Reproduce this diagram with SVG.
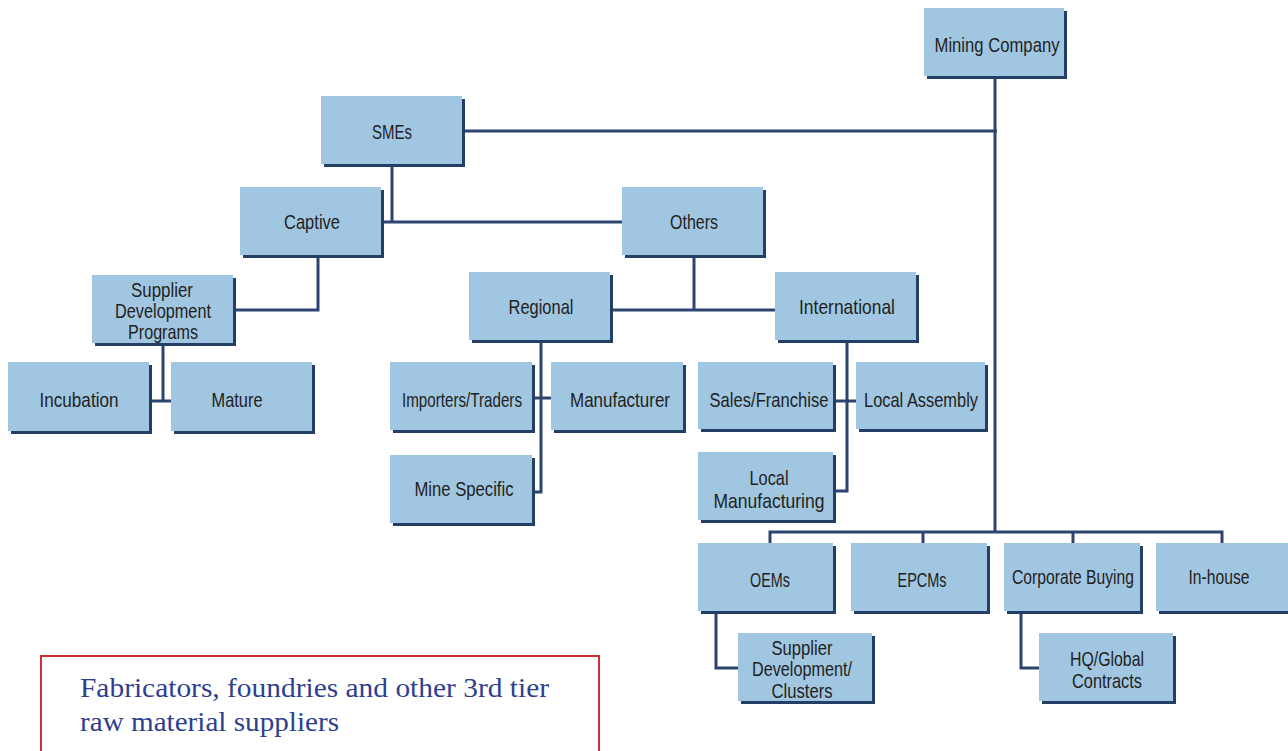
<svg xmlns="http://www.w3.org/2000/svg" width="1288" height="751" viewBox="0 0 1288 751">
<style>
.sh{fill:#243f66}
.bx{fill:#a0c6e2}
.t{font-family:"Liberation Sans",Arial,sans-serif;font-size:21px;fill:#231f20;text-anchor:middle}
.c{fill:none;stroke:#2b4570;stroke-width:3}
.note{font-family:"Liberation Serif",serif;font-size:27px;fill:#2e3f8f}
</style>
<rect width="1288" height="751" fill="#ffffff"/>
<g id="connectors">
<path class="c" d="M995 77V533M463 131H997"/>
<path class="c" d="M392 164V222M381 222H622"/>
<path class="c" d="M318 256V310H234"/>
<path class="c" d="M163 343V401M150 401H172"/>
<path class="c" d="M694 255V310M611 310H775"/>
<path class="c" d="M541 340V492H532M532 398H551"/>
<path class="c" d="M847 340V491H833M833 401H856"/>
<path class="c" d="M770 543V532H1222V543M923 532V543M1073 532V543"/>
<path class="c" d="M716 611V668H738"/>
<path class="c" d="M1021 611V668H1039"/>
</g>
<g id="mining"><rect class="sh" x="927" y="11" width="140" height="68"/><rect class="bx" x="924" y="8" width="140" height="68"/><text class="t" x="997" y="52" textLength="125" lengthAdjust="spacingAndGlyphs">Mining Company</text></g>
<g id="smes"><rect class="sh" x="324" y="99" width="141" height="68"/><rect class="bx" x="321" y="96" width="141" height="68"/><text class="t" x="392" y="139" textLength="40" lengthAdjust="spacingAndGlyphs">SMEs</text></g>
<g id="captive"><rect class="sh" x="243" y="190" width="141" height="68"/><rect class="bx" x="240" y="187" width="141" height="68"/><text class="t" x="312" y="229" textLength="56" lengthAdjust="spacingAndGlyphs">Captive</text></g>
<g id="others"><rect class="sh" x="625" y="190" width="141" height="68"/><rect class="bx" x="622" y="187" width="141" height="68"/><text class="t" x="694" y="229" textLength="48" lengthAdjust="spacingAndGlyphs">Others</text></g>
<g id="sdp"><rect class="sh" x="95" y="278" width="141" height="68"/><rect class="bx" x="92" y="275" width="141" height="68"/><text class="t" x="162" y="297" textLength="62" lengthAdjust="spacingAndGlyphs">Supplier</text><text class="t" x="163" y="318" textLength="96" lengthAdjust="spacingAndGlyphs">Development</text><text class="t" x="163" y="339" textLength="70" lengthAdjust="spacingAndGlyphs">Programs</text></g>
<g id="regional"><rect class="sh" x="472" y="275" width="141" height="68"/><rect class="bx" x="469" y="272" width="141" height="68"/><text class="t" x="541" y="314" textLength="65" lengthAdjust="spacingAndGlyphs">Regional</text></g>
<g id="international"><rect class="sh" x="778" y="275" width="141" height="68"/><rect class="bx" x="775" y="272" width="141" height="68"/><text class="t" x="847" y="314" textLength="96" lengthAdjust="spacingAndGlyphs">International</text></g>
<g id="incubation"><rect class="sh" x="11" y="365" width="141" height="69"/><rect class="bx" x="8" y="362" width="141" height="69"/><text class="t" x="79" y="407" textLength="79" lengthAdjust="spacingAndGlyphs">Incubation</text></g>
<g id="mature"><rect class="sh" x="174" y="365" width="141" height="69"/><rect class="bx" x="171" y="362" width="141" height="69"/><text class="t" x="237" y="407" textLength="51" lengthAdjust="spacingAndGlyphs">Mature</text></g>
<g id="importers"><rect class="sh" x="393" y="365" width="142" height="68"/><rect class="bx" x="390" y="362" width="142" height="68"/><text class="t" x="462" y="407" textLength="120" lengthAdjust="spacingAndGlyphs">Importers/Traders</text></g>
<g id="manufacturer"><rect class="sh" x="554" y="365" width="132" height="68"/><rect class="bx" x="551" y="362" width="132" height="68"/><text class="t" x="620" y="407" textLength="100" lengthAdjust="spacingAndGlyphs">Manufacturer</text></g>
<g id="sales"><rect class="sh" x="701" y="365" width="135" height="67"/><rect class="bx" x="698" y="362" width="135" height="67"/><text class="t" x="769" y="407" textLength="119" lengthAdjust="spacingAndGlyphs">Sales/Franchise</text></g>
<g id="assembly"><rect class="sh" x="859" y="365" width="129" height="67"/><rect class="bx" x="856" y="362" width="129" height="67"/><text class="t" x="921" y="407" textLength="114" lengthAdjust="spacingAndGlyphs">Local Assembly</text></g>
<g id="minespecific"><rect class="sh" x="393" y="458" width="142" height="68"/><rect class="bx" x="390" y="455" width="142" height="68"/><text class="t" x="464" y="496" textLength="99" lengthAdjust="spacingAndGlyphs">Mine Specific</text></g>
<g id="localmfg"><rect class="sh" x="701" y="455" width="135" height="68"/><rect class="bx" x="698" y="452" width="135" height="68"/><text class="t" x="769" y="485" textLength="39" lengthAdjust="spacingAndGlyphs">Local</text><text class="t" x="769" y="508" textLength="111" lengthAdjust="spacingAndGlyphs">Manufacturing</text></g>
<g id="oems"><rect class="sh" x="701" y="546" width="135" height="68"/><rect class="bx" x="698" y="543" width="135" height="68"/><text class="t" x="770" y="587" textLength="40" lengthAdjust="spacingAndGlyphs">OEMs</text></g>
<g id="epcms"><rect class="sh" x="854" y="546" width="136" height="68"/><rect class="bx" x="851" y="543" width="136" height="68"/><text class="t" x="922" y="587" textLength="49" lengthAdjust="spacingAndGlyphs">EPCMs</text></g>
<g id="corporate"><rect class="sh" x="1007" y="546" width="136" height="68"/><rect class="bx" x="1004" y="543" width="136" height="68"/><text class="t" x="1073" y="584" textLength="122" lengthAdjust="spacingAndGlyphs">Corporate Buying</text></g>
<g id="inhouse"><rect class="sh" x="1159" y="546" width="135" height="68"/><rect class="bx" x="1156" y="543" width="135" height="68"/><text class="t" x="1219" y="584" textLength="61" lengthAdjust="spacingAndGlyphs">In-house</text></g>
<g id="sdc"><rect class="sh" x="741" y="636" width="134" height="68"/><rect class="bx" x="738" y="633" width="134" height="68"/><text class="t" x="802" y="655" textLength="61" lengthAdjust="spacingAndGlyphs">Supplier</text><text class="t" x="802" y="676" textLength="100" lengthAdjust="spacingAndGlyphs">Development/</text><text class="t" x="802" y="698" textLength="61" lengthAdjust="spacingAndGlyphs">Clusters</text></g>
<g id="hq"><rect class="sh" x="1042" y="636" width="134" height="68"/><rect class="bx" x="1039" y="633" width="134" height="68"/><text class="t" x="1107" y="666" textLength="74" lengthAdjust="spacingAndGlyphs">HQ/Global</text><text class="t" x="1107" y="688" textLength="70" lengthAdjust="spacingAndGlyphs">Contracts</text></g>
<g id="note"><rect x="41" y="656" width="558" height="120" fill="none" stroke="#d42a33" stroke-width="2"/><text class="note" x="80" y="697" textLength="469" lengthAdjust="spacingAndGlyphs">Fabricators, foundries and other 3rd tier</text><text class="note" x="80" y="731" textLength="259" lengthAdjust="spacingAndGlyphs">raw material suppliers</text></g>
</svg>
